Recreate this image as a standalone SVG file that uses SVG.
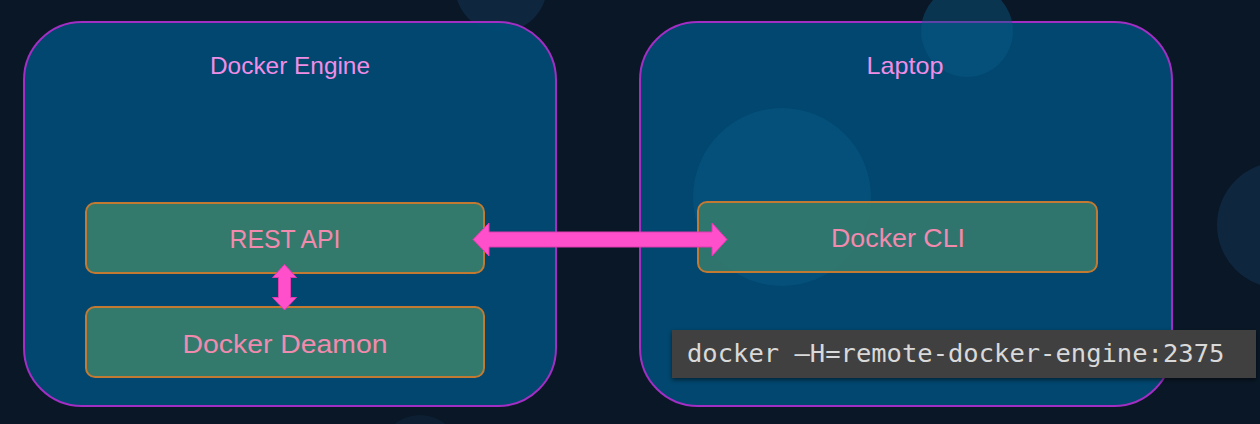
<svg xmlns="http://www.w3.org/2000/svg" width="1260" height="424" viewBox="0 0 1260 424">
  <defs>
    <style>
      .outer { fill: #004c78; fill-opacity: 0.9; stroke: #a22ec4; stroke-width: 2; }
      .inner { fill: #337a6c; stroke: #c27a32; stroke-width: 2; }
      .title { font-family: "Liberation Sans", Arial, sans-serif; font-size: 24px; fill: #f08ee6; text-anchor: middle; }
      .label { font-family: "Liberation Sans", Arial, sans-serif; font-size: 26.5px; fill: #f28aae; text-anchor: middle; }
      .cmd { font-family: "DejaVu Sans Mono", "Liberation Mono", monospace; font-size: 25.5px; fill: #d9d9d9; }
      .arrow { fill: #ff4fcb; stroke: #e03aaf; stroke-width: 1; }
      .bgc { fill: #0e273f; }
    </style>
    <filter id="shadow" x="-5%" y="-20%" width="110%" height="150%">
      <feDropShadow dx="0" dy="2" stdDeviation="2" flood-color="#000" flood-opacity="0.5"/>
    </filter>
  </defs>

  <rect x="0" y="0" width="1260" height="424" fill="#0a1726"/>
  <g id="background">
    <circle class="bgc" cx="501" cy="-14" r="46"/>
    <circle class="bgc" cx="1280" cy="225" r="63"/>
    <circle class="bgc" cx="420" cy="455" r="40" opacity="0.5"/>
  </g>

  <g id="docker-engine">
    <rect class="outer" x="24" y="22" width="532" height="384" rx="58" ry="58"/>
    <text class="title" x="290" y="74" textLength="160" lengthAdjust="spacingAndGlyphs">Docker Engine</text>
  </g>

  <g id="laptop">
    <rect class="outer" x="640" y="22" width="532" height="384" rx="58" ry="58"/>
    <circle cx="967" cy="31" r="46" fill="#0a5a88" opacity="0.45"/>
    <circle cx="782" cy="197" r="89" fill="#0a5a88" opacity="0.45"/>
    <text class="title" x="905" y="74" textLength="77" lengthAdjust="spacingAndGlyphs">Laptop</text>
  </g>

  <g id="rest-api">
    <rect class="inner" x="86" y="203" width="398" height="70" rx="9" ry="9"/>
    <text class="label" x="285" y="248" textLength="111" lengthAdjust="spacingAndGlyphs">REST API</text>
  </g>

  <g id="docker-deamon">
    <rect class="inner" x="86" y="307" width="398" height="70" rx="9" ry="9"/>
    <text class="label" x="285" y="353" textLength="205" lengthAdjust="spacingAndGlyphs">Docker Deamon</text>
  </g>

  <g id="docker-cli">
    <rect class="inner" x="698" y="202" width="399" height="70" rx="9" ry="9" fill-opacity="0.92"/>
    <text class="label" x="898" y="247" textLength="134" lengthAdjust="spacingAndGlyphs">Docker CLI</text>
  </g>

  <g id="connectors">
    <path class="arrow" d="M473,239.5 L489,223 L489,232 L712,232 L712,223 L727,239.5 L712,256 L712,247 L489,247 L489,256 Z"/>
    <path class="arrow" d="M284.5,264.5 L296.5,277.5 L290.5,277.5 L290.5,297.5 L296.5,297.5 L284.5,310 L272.5,297.5 L278.5,297.5 L278.5,277.5 L272.5,277.5 Z"/>
  </g>

  <g id="command">
    <rect x="672" y="330" width="584" height="48" fill="#404040" filter="url(#shadow)"/>
    <text class="cmd" x="687" y="362">docker –H=remote-docker-engine:2375</text>
  </g>
</svg>
